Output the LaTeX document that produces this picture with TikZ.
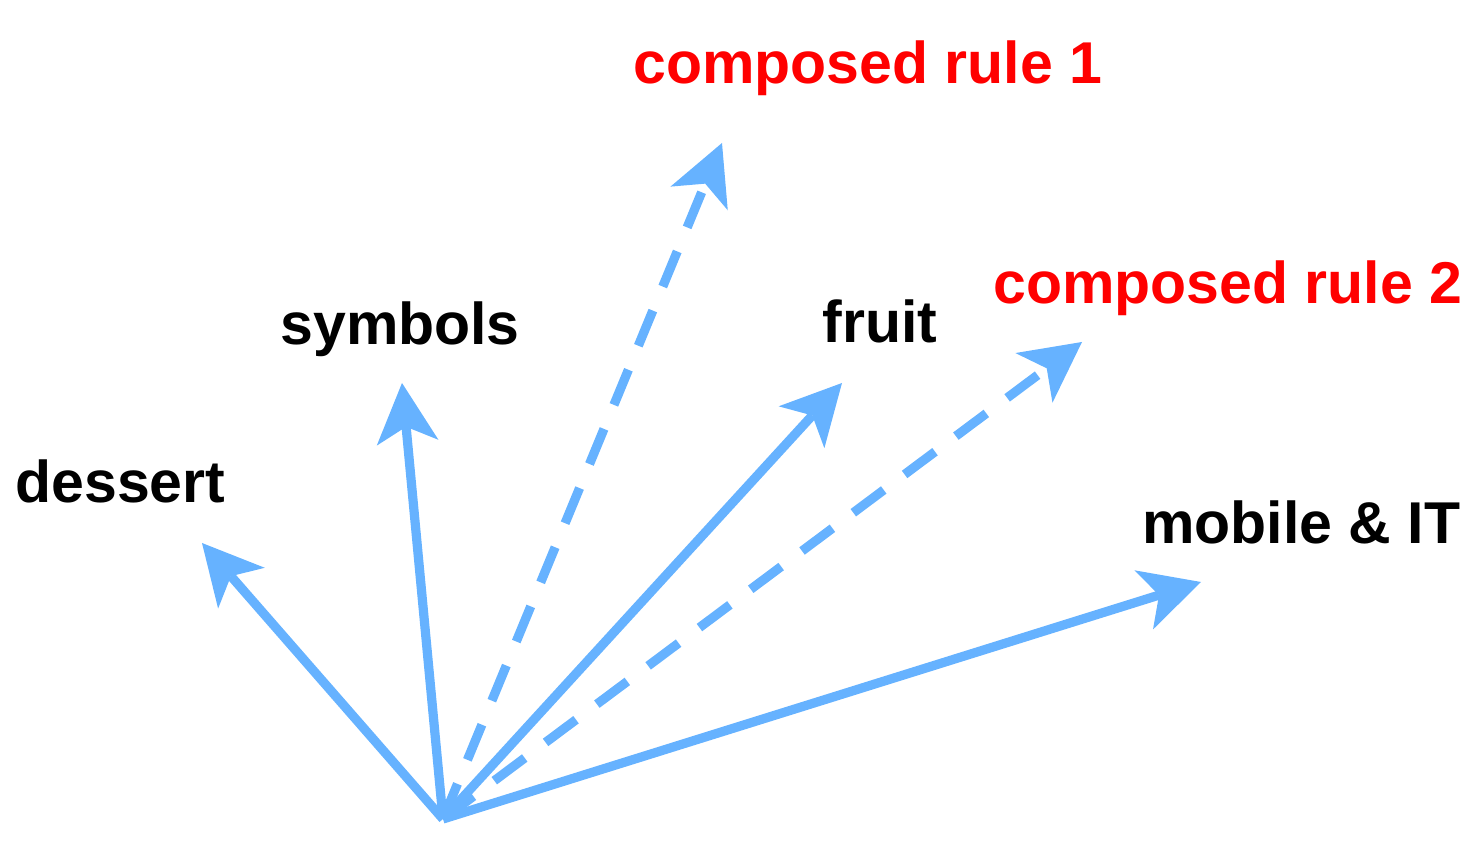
\documentclass[tikz,border=0pt]{standalone}
\usepackage{fontspec}
\setmainfont{Liberation Sans}
\usetikzlibrary{arrows.meta}
\definecolor{vecblue}{RGB}{102,178,255}
\definecolor{rulered}{RGB}{255,0,0}

\begin{document}
\begin{tikzpicture}[x=0.5pt,y=-0.5pt,
    vec/.style={draw=vecblue,line width=4.6pt,-{Stealth[length=30pt,width=31pt,inset=8pt,line width=0pt]}},
    dvec/.style={vec,dash pattern=on 19pt off 13pt},
    lab/.style={anchor=base west,inner sep=0pt,font=\fontsize{29.5}{34}\selectfont\bfseries},
    rulelab/.style={lab,text=rulered}]
    \useasboundingbox (0,0) rectangle (1480,860);
    \coordinate (o) at (443,819);
    \coordinate (dessert tip) at (202,543); \node[lab] (dessert) at (15,503){dessert};
    \coordinate (symbols tip) at (402,383); \node[lab] (symbols) at (280,345){symbols};
    \coordinate (fruit tip) at (842,383); \node[lab] (fruit) at (822,343){fruit};
    \coordinate (mobile tip) at (1201,582); \node[lab] (mobile) at (1142,544){mobile \& IT};
    \coordinate (rule1 tip) at (722,143); \node[rulelab] (rule1) at (633,84){composed rule 1};
    \coordinate (rule2 tip) at (1082,342); \node[rulelab] (rule2) at (993,304){composed rule 2};
    \draw[dvec] (o) -- (rule1 tip);
    \draw[dvec] (o) -- (rule2 tip);
    \draw[vec] (o) -- (dessert tip);
    \draw[vec] (o) -- (symbols tip);
    \draw[vec] (o) -- (fruit tip);
    \draw[vec] (o) -- (mobile tip);
  \end{tikzpicture}
\end{document}
